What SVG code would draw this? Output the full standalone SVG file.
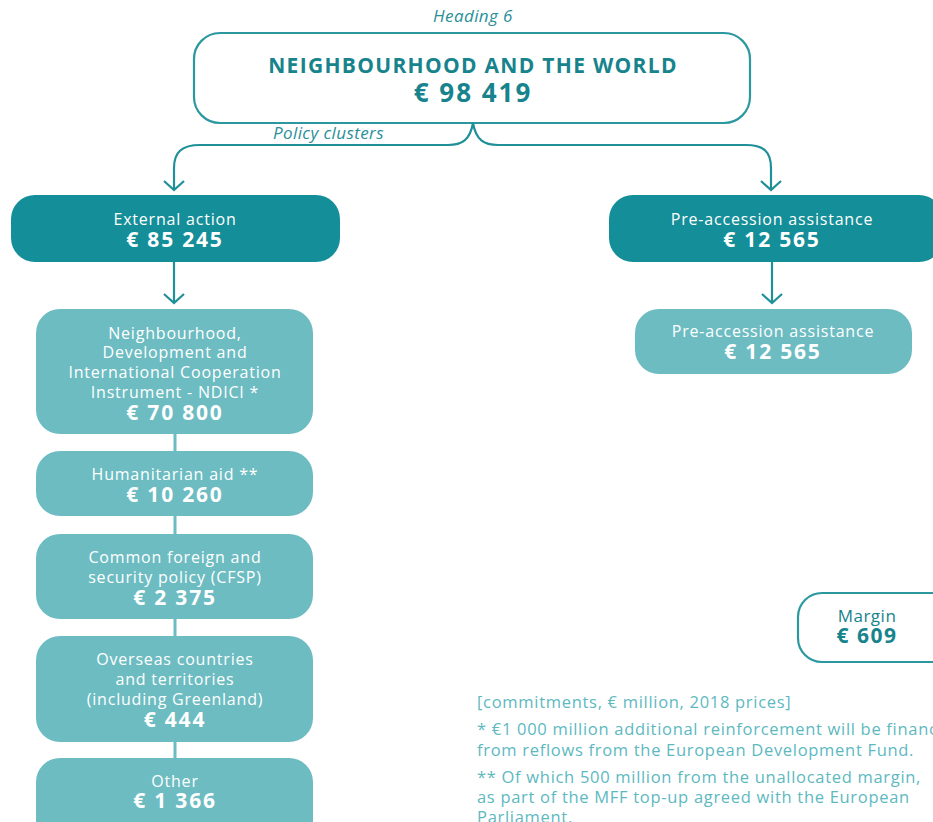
<svg xmlns="http://www.w3.org/2000/svg" width="933" height="822" viewBox="0 0 933 822">
  <defs>
    <style>
      .t { font-family: "Open Sans", "Noto Sans", "Liberation Sans", sans-serif; text-anchor: middle; }
      .lbl { font-size: 16px; letter-spacing: 0.8px; fill: #ffffff; }
      .amt { font-size: 21px; font-weight: bold; letter-spacing: 1.8px; fill: #ffffff; }
      .dark { fill: #148e98; }
      .light { fill: #6cbcc2; }
      .outline { fill: #ffffff; stroke: #2b989f; stroke-width: 2.2; }
      .teal { fill: #17838c; }
      .ital { font-style: italic; font-size: 17px; letter-spacing: 0.4px; fill: #2a8f98; }
      .note { font-family: "Open Sans", "Noto Sans", "Liberation Sans", sans-serif; font-size: 16.5px; letter-spacing: 0.7px; fill: #5db9bf; }
      .conn { fill: none; stroke: #1f8f98; stroke-width: 2.2; }
      .link { fill: none; stroke: #6cbcc2; stroke-width: 3; }
    </style>
    <!-- open chevron arrowhead, tip at the end of the line -->
    <marker id="chev" viewBox="0 0 12 22" refX="10" refY="11" markerWidth="12" markerHeight="22" markerUnits="userSpaceOnUse" orient="auto">
      <path d="M1,1 L10,11 L1,21" fill="none" stroke="#1f8f98" stroke-width="2.2"/>
    </marker>
  </defs>

  <!-- Heading -->
  <g id="heading">
    <text class="t ital" x="473" y="22">Heading 6</text>
    <rect class="outline" x="194" y="33" width="556" height="90" rx="26"/>
    <text class="t teal" x="473" y="73" font-size="21" font-weight="bold" letter-spacing="1.3">NEIGHBOURHOOD AND THE WORLD</text>
    <text class="t teal" x="473" y="102" font-size="26" font-weight="bold" letter-spacing="2">€ 98 419</text>
  </g>

  <text class="t ital" x="273" y="139" style="text-anchor:start">Policy clusters</text>

  <!-- Connectors -->
  <g id="connectors">
    <path class="conn" d="M473,123 C470,140 462,145 448,145 L200,145 C182,145 174,152 174,168 L174,190" marker-end="url(#chev)"/>
    <path class="conn" d="M473,123 C476,140 484,145 498,145 L746,145 C764,145 771,152 771,168 L771,190" marker-end="url(#chev)"/>
    <path class="conn" d="M174,262 L174,303" marker-end="url(#chev)"/>
    <path class="conn" d="M772,262 L772,303" marker-end="url(#chev)"/>
    <line class="link" x1="175" y1="433" x2="175" y2="452"/>
    <line class="link" x1="175" y1="515" x2="175" y2="535"/>
    <line class="link" x1="175" y1="618" x2="175" y2="637"/>
    <line class="link" x1="175" y1="741" x2="175" y2="759"/>
  </g>

  <!-- Policy clusters -->
  <g id="external-action">
    <rect class="dark" x="11" y="195" width="329" height="67" rx="24"/>
    <text class="t lbl" x="175" y="225">External action</text>
    <text class="t amt" x="175" y="247">€ 85 245</text>
  </g>
  <g id="pre-accession-cluster">
    <rect class="dark" x="609" y="195" width="334" height="67" rx="24"/>
    <text class="t lbl" x="772" y="225">Pre-accession assistance</text>
    <text class="t amt" x="772" y="247">€ 12 565</text>
  </g>

  <!-- Programmes -->
  <g id="ndici">
    <rect class="light" x="36" y="309" width="277" height="125" rx="24"/>
    <text class="t lbl" x="175" y="339">Neighbourhood,</text>
    <text class="t lbl" x="175" y="358">Development and</text>
    <text class="t lbl" x="175" y="378">International Cooperation</text>
    <text class="t lbl" x="175" y="398">Instrument - NDICI *</text>
    <text class="t amt" x="175" y="420">€ 70 800</text>
  </g>
  <g id="humanitarian-aid">
    <rect class="light" x="36" y="451" width="277" height="65" rx="24"/>
    <text class="t lbl" x="175" y="480">Humanitarian aid **</text>
    <text class="t amt" x="175" y="502">€ 10 260</text>
  </g>
  <g id="cfsp">
    <rect class="light" x="36" y="534" width="277" height="85" rx="24"/>
    <text class="t lbl" x="175" y="563">Common foreign and</text>
    <text class="t lbl" x="175" y="583">security policy (CFSP)</text>
    <text class="t amt" x="175" y="605">€ 2 375</text>
  </g>
  <g id="oct">
    <rect class="light" x="36" y="636" width="277" height="106" rx="24"/>
    <text class="t lbl" x="175" y="665">Overseas countries</text>
    <text class="t lbl" x="175" y="685">and territories</text>
    <text class="t lbl" x="175" y="705">(including Greenland)</text>
    <text class="t amt" x="175" y="727">€ 444</text>
  </g>
  <g id="other">
    <rect class="light" x="36" y="758" width="277" height="90" rx="24"/>
    <text class="t lbl" x="175" y="787">Other</text>
    <text class="t amt" x="175" y="808">€ 1 366</text>
  </g>
  <g id="pre-accession">
    <rect class="light" x="635" y="309" width="277" height="65" rx="24"/>
    <text class="t lbl" x="773" y="337">Pre-accession assistance</text>
    <text class="t amt" x="773" y="359">€ 12 565</text>
  </g>

  <!-- Margin -->
  <g id="margin">
    <rect class="outline" x="798" y="593" width="160" height="69" rx="24"/>
    <text class="t teal" x="867" y="622" font-size="17" letter-spacing="0.5">Margin</text>
    <text class="t teal" x="867" y="643" font-size="21" font-weight="bold" letter-spacing="1.5">€ 609</text>
  </g>

  <!-- Notes -->
  <g id="notes">
    <text class="note" x="477" y="708">[commitments, € million, 2018 prices]</text>
    <text class="note" x="477" y="735">* €1 000 million additional reinforcement will be financed</text>
    <text class="note" x="477" y="756">from reflows from the European Development Fund.</text>
    <text class="note" x="477" y="783">** Of which 500 million from the unallocated margin,</text>
    <text class="note" x="477" y="803">as part of the MFF top-up agreed with the European</text>
    <text class="note" x="477" y="823">Parliament.</text>
  </g>
</svg>
